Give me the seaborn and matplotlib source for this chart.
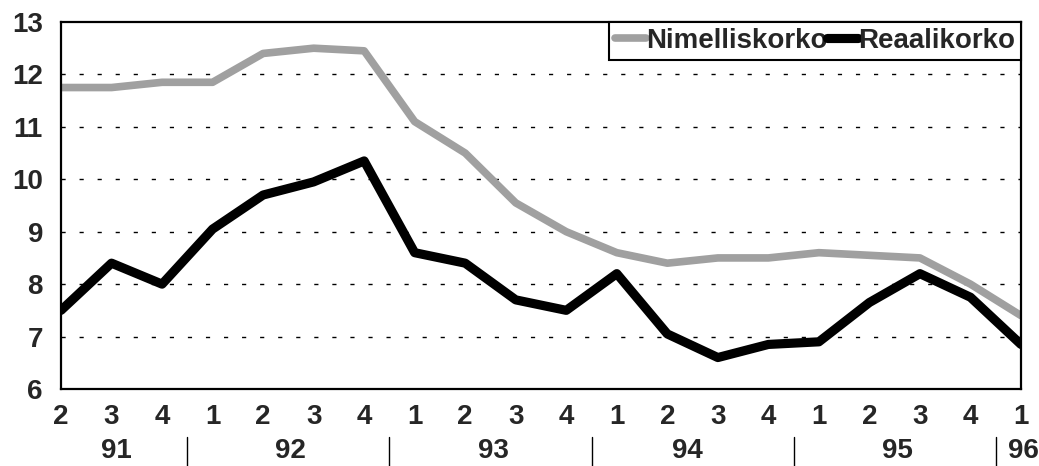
import matplotlib
matplotlib.use("Agg")
import matplotlib.pyplot as plt
import matplotlib.transforms as mtransforms
from matplotlib.lines import Line2D
import seaborn as sns
import pandas as pd
import numpy as np

quarters = ["2", "3", "4", "1", "2", "3", "4", "1", "2", "3", "4",
            "1", "2", "3", "4", "1", "2", "3", "4", "1"]
years = ["91", "92", "93", "94", "95", "96"]
year_centers = [1.1, 4.55, 8.55, 12.4, 16.55, 19.05]
year_breaks = [2.5, 6.5, 10.5, 14.5, 18.5]
nimelliskorko = [11.75, 11.75, 11.85, 11.85, 12.4, 12.5, 12.45, 11.1, 10.5, 9.55,
                 9.0, 8.6, 8.4, 8.5, 8.5, 8.6, 8.55, 8.5, 8.0, 7.4]
reaalikorko = [7.5, 8.4, 8.0, 9.05, 9.7, 9.95, 10.35, 8.6, 8.4, 7.7,
               7.5, 8.2, 7.05, 6.6, 6.85, 6.9, 7.65, 8.2, 7.75, 6.85]

sns.set_theme(style="white")
plt.rcParams['font.family'] = ['Liberation Sans', 'DejaVu Sans']
plt.rcParams['font.weight'] = 'bold'

GRAY = "#a0a0a0"
LW_N, LW_R = 5.5, 6.6
FS = 20
idx = np.arange(len(quarters))
df = pd.DataFrame({
    "x": np.concatenate([idx, idx]),
    "y": nimelliskorko + reaalikorko,
    "s": ["Nimelliskorko"] * len(idx) + ["Reaalikorko"] * len(idx),
})

fig = plt.figure(figsize=(10.39, 4.66), dpi=100)
ax = fig.add_axes([61 / 1039, 1 - 389 / 466, 960 / 1039, 367 / 466])

sns.lineplot(data=df, x="x", y="y", hue="s",
             palette={"Nimelliskorko": GRAY, "Reaalikorko": "black"},
             ax=ax, legend=False, sort=False)
lines = ax.get_lines()
lines[0].set_linewidth(LW_N)
lines[0].set_solid_joinstyle('round')
lines[1].set_linewidth(LW_R)
lines[1].set_solid_joinstyle('round')

ax.set_xlim(0, 19)
ax.set_ylim(6, 13)
ax.set_yticks(range(6, 14))
ax.set_yticklabels([str(v) for v in range(6, 14)], fontsize=FS, fontweight='bold')
ax.set_xticks(idx)
ax.set_xticklabels(quarters, fontsize=FS, fontweight='bold')
ax.tick_params(axis='x', length=0, pad=11)
ax.tick_params(axis='y', length=0, pad=13)
ax.set_xlabel("")
ax.set_ylabel("")

for v in range(7, 13):
    ax.axhline(v, color='black', lw=1.0, ls=(0, (3, 10)), zorder=0)

for sp in ax.spines.values():
    sp.set_color('black')
    sp.set_linewidth(1.6)
    sp.set_visible(True)

trans = mtransforms.blended_transform_factory(ax.transData, ax.transAxes)
for c, yl in zip(year_centers, years):
    ax.text(c, -0.168, yl, transform=trans, ha='center', va='center',
            fontsize=FS, fontweight='bold')
for b in year_breaks:
    ax.plot([b, b], [-0.13, -0.22], transform=trans, color='black', lw=1.0,
            clip_on=False)

handles = [Line2D([], [], color=GRAY, lw=LW_N),
           Line2D([], [], color="black", lw=LW_R)]
leg = ax.legend(handles, ["Nimelliskorko", "Reaalikorko"], ncol=2,
                loc='upper right', bbox_to_anchor=(1.0, 1.0),
                frameon=True, fancybox=False, framealpha=1, edgecolor='black',
                prop={'weight': 'bold', 'size': FS}, handlelength=1.1,
                handletextpad=0.0, columnspacing=0.0, borderpad=0.22,
                borderaxespad=0.0)
leg.get_frame().set_linewidth(1.5)

fig.savefig("out.png", dpi=100)
